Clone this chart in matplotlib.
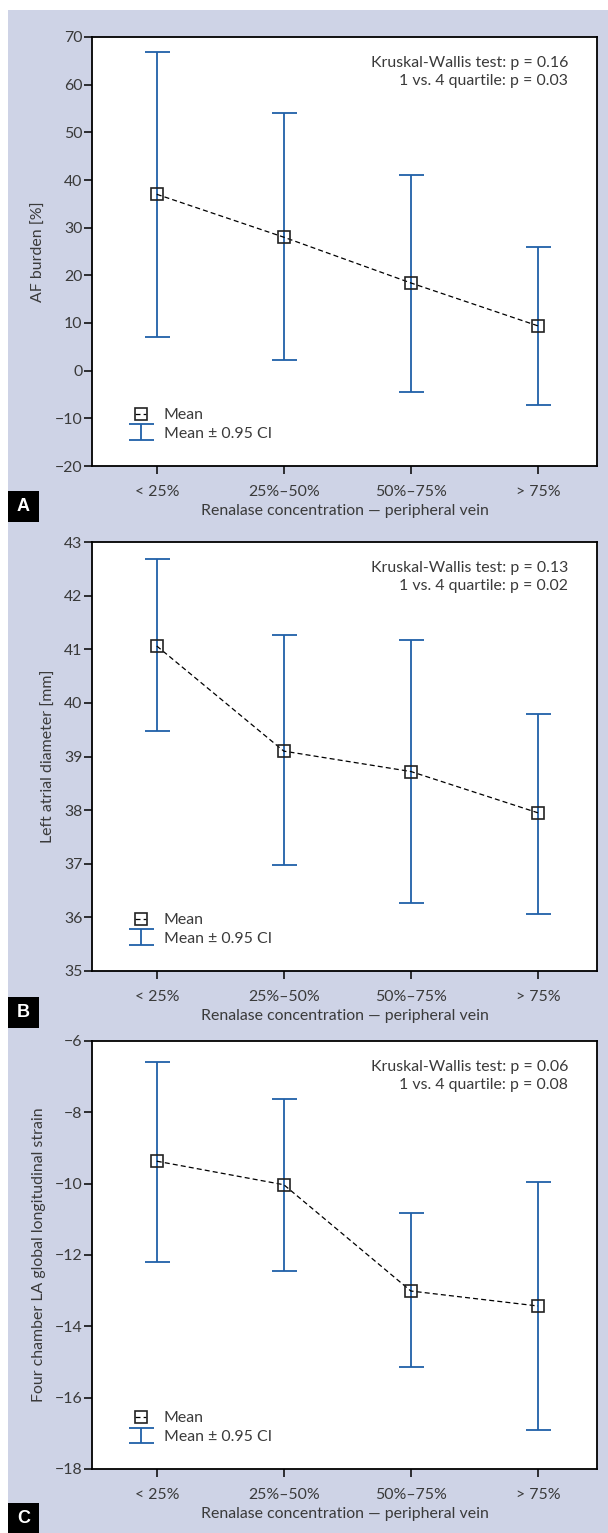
import matplotlib
matplotlib.use('Agg')
import matplotlib.pyplot as plt
from matplotlib.patches import Rectangle

plt.rcParams['font.family'] = ['Lato', 'DejaVu Sans']

# categories shared by all three panels
categories = ['< 25%', '25%–50%', '50%–75%', '> 75%']
xlabel = 'Renalase concentration — peripheral vein'

# panel A - AF burden
af_mean = [37.0, 28.0, 18.4, 9.4]
af_low = [7.1, 2.2, -4.4, -7.3]
af_high = [66.9, 54.1, 41.1, 25.9]

# panel B - left atrial diameter
la_mean = [41.06, 39.10, 38.72, 37.95]
la_low = [39.47, 36.97, 36.26, 36.07]
la_high = [42.68, 41.26, 41.18, 39.80]

# panel C - LA strain
strain_mean = [-9.37, -10.03, -13.01, -13.43]
strain_low = [-12.19, -12.45, -15.13, -16.91]
strain_high = [-6.58, -7.62, -10.83, -9.96]

W, H = 608, 1533
fig = plt.figure(figsize=(W / 100, H / 100), dpi=100)
fig.patch.set_facecolor('white')
# lavender background
fig.add_artist(Rectangle((8 / W, 0), 1 - 8 / W, 1 - 10 / H, transform=fig.transFigure,
                         facecolor='#ced3e6', edgecolor='none', zorder=0))

txt = '#3a3a3a'
blue = '#2060a8'
fs = 11.4


def panel(top, bottom, mean, low, high, ylim, yticks, ylabel, stats, letter, box_top):
    ax = fig.add_axes([92 / W, 1 - bottom / H, 505 / W, (bottom - top) / H])
    ax.set_facecolor('white')
    x = list(range(len(categories)))
    yerr = [[m - l for m, l in zip(mean, low)], [h - m for m, h in zip(mean, high)]]
    eb = ax.errorbar(x, mean, yerr=yerr, fmt='none', ecolor=blue, elinewidth=1.3,
                     capsize=9, capthick=1.3, zorder=2, label='Mean ± 0.95 CI')
    ln, = ax.plot(x, mean, linestyle=(0, (4, 2.5)), color='black', linewidth=0.9,
                  marker='s', markersize=8, markerfacecolor='none',
                  markeredgecolor='#222222', markeredgewidth=1.2, zorder=3, label='Mean')
    ax.set_xlim(-0.51, 3.465)
    ax.set_ylim(*ylim)
    ax.set_yticks(yticks)
    ax.set_xticks(x)
    ax.set_xticklabels(categories)
    ax.tick_params(axis='both', direction='out', length=6, width=1.1, colors='black',
                   labelcolor=txt, labelsize=fs)
    ax.tick_params(axis='x', pad=8)
    ax.tick_params(axis='y', pad=1)
    for s in ax.spines.values():
        s.set_linewidth(1.3)
        s.set_color('black')
    ax.set_ylabel(ylabel, color=txt, fontsize=fs, labelpad=6)
    ax.set_xlabel(xlabel, color=txt, fontsize=fs, labelpad=3)
    ax.text(0.943, 0.955, stats, transform=ax.transAxes, ha='right', va='top',
            fontsize=fs, color=txt, linespacing=1.35)
    leg = ax.legend(handles=[ln, eb], loc='lower left', bbox_to_anchor=(0.07, 0.04),
                    frameon=False, fontsize=fs, handlelength=0.7, handletextpad=1.1,
                    labelspacing=0.3, borderpad=0)
    for t in leg.get_texts():
        t.set_color(txt)
    # panel letter
    fig.add_artist(Rectangle((8 / W, 1 - (box_top + 31) / H), 31 / W, 31 / H,
                             transform=fig.transFigure, facecolor='black',
                             edgecolor='none', zorder=5))
    fig.text(23.5 / W, 1 - (box_top + 15.5) / H, letter, color='white', fontsize=13,
             fontweight='bold', family='Liberation Sans', ha='center', va='center', zorder=6)
    return ax


panel(37, 466, af_mean, af_low, af_high, (-20, 70), range(-20, 71, 10), 'AF burden [%]',
      'Kruskal-Wallis test: p = 0.16\n1 vs. 4 quartile: p = 0.03', 'A', 491)
panel(542, 971, la_mean, la_low, la_high, (35, 43), range(35, 44), 'Left atrial diameter [mm]',
      'Kruskal-Wallis test: p = 0.13\n1 vs. 4 quartile: p = 0.02', 'B', 997)
panel(1041, 1469, strain_mean, strain_low, strain_high, (-18, -6), range(-18, -5, 2),
      'Four chamber LA global longitudinal strain',
      'Kruskal-Wallis test: p = 0.06\n1 vs. 4 quartile: p = 0.08', 'C', 1503)

fig.savefig('out.png', dpi=100)
